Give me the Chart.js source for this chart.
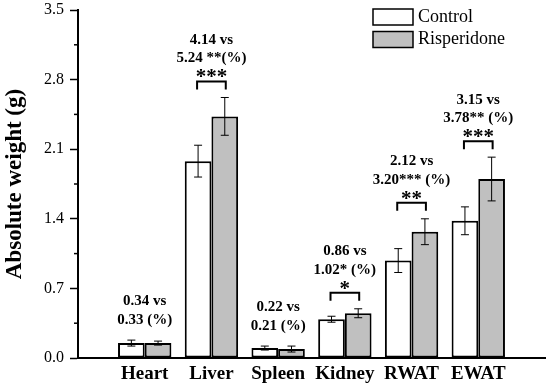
<!DOCTYPE html>
<html>
<head>
<meta charset="utf-8">
<script src="https://cdn.jsdelivr.net/npm/chart.js@4.4.0/dist/chart.umd.min.js"></script>
<style>
  html, body { margin: 0; padding: 0; background: #fff; }
  #wrap { width: 550px; height: 387px; }
</style>
</head>
<body>
<div id="wrap"><canvas id="chart"></canvas></div>
<script>
const organs = ["Heart", "Liver", "Spleen", "Kidney", "RWAT", "EWAT"];
const controlWeight = [0.15, 1.98, 0.10, 0.39, 0.98, 1.38];
const controlErr = [0.03, 0.16, 0.02, 0.03, 0.12, 0.14];
const risperWeight = [0.15, 2.43, 0.09, 0.45, 1.27, 1.80];
const risperErr = [0.02, 0.19, 0.03, 0.045, 0.13, 0.22];
const ratioTop = ["0.34 vs", "4.14 vs", "0.22 vs", "0.86 vs", "2.12 vs", "3.15 vs"];
const ratioBottom = ["0.33 (%)", "5.24 **(%)", "0.21 (%)", "1.02* (%)", "3.20*** (%)", "3.78** (%)"];
const stars = ["", "***", "", "*", "**", "***"];
const legendNames = ["Control", "Risperidone"];

const serif = "'Liberation Serif', 'Times New Roman', serif";
const fills = ["#ffffff", "#c0c0c0"];

// empty slot either side so Heart sits one step in from the axis
const labels = ["", ...organs, ""];
const pad = arr => [null, ...arr, null];

// error bars, brackets, text, minor ticks, legend
const extras = {
  id: "extras",
  afterDatasetsDraw(chart) {
    const ctx = chart.ctx;
    const x = chart.scales.x, y = chart.scales.y;
    const area = chart.chartArea;
    const sets = [[controlWeight, controlErr], [risperWeight, risperErr]];

    ctx.save();
    ctx.strokeStyle = "#000";
    ctx.fillStyle = "#000";

    // error bars
    ctx.lineWidth = 1;
    sets.forEach((s, d) => {
      const meta = chart.getDatasetMeta(d);
      s[0].forEach((v, i) => {
        const bx = meta.data[i + 1].x;
        const t = y.getPixelForValue(v + s[1][i]);
        const b = y.getPixelForValue(v - s[1][i]);
        ctx.beginPath();
        ctx.moveTo(bx, t); ctx.lineTo(bx, b);
        ctx.moveTo(bx - 4, t); ctx.lineTo(bx + 4, t);
        ctx.moveTo(bx - 4, b); ctx.lineTo(bx + 4, b);
        ctx.stroke();
      });
    });

    // brackets + labels
    ctx.textAlign = "center";
    organs.forEach((o, i) => {
      const cx = x.getPixelForValue(i + 1);
      const top = Math.min(
        y.getPixelForValue(controlWeight[i] + controlErr[i]),
        y.getPixelForValue(risperWeight[i] + risperErr[i])
      );
      let line2;
      if (stars[i]) {
        const x1 = chart.getDatasetMeta(0).data[i + 1].x - 1;
        const x2 = chart.getDatasetMeta(1).data[i + 1].x + 1;
        const by = top - 16;
        ctx.lineWidth = 2;
        ctx.beginPath();
        ctx.moveTo(x1, by + 8); ctx.lineTo(x1, by);
        ctx.lineTo(x2, by); ctx.lineTo(x2, by + 8);
        ctx.stroke();
        ctx.font = "bold 21px " + serif;
        ctx.textBaseline = "alphabetic";
        ctx.fillText(stars[i], cx, by + 2);
        line2 = by - 23;
      } else {
        line2 = top - 20;
      }
      ctx.font = "bold 15px " + serif;
      ctx.textBaseline = "middle";
      ctx.fillText(ratioBottom[i], cx, line2);
      ctx.fillText(ratioTop[i], cx, line2 - 18.5);
    });

    // minor ticks
    ctx.lineWidth = 1.5;
    for (let v = 0.35; v < 3.5; v += 0.7) {
      const py = y.getPixelForValue(v);
      ctx.beginPath();
      ctx.moveTo(area.left - 4, py); ctx.lineTo(area.left, py);
      ctx.stroke();
    }

    // legend
    const lx = area.right - 172, ly = 9;
    ctx.font = "18px " + serif;
    ctx.textAlign = "left";
    ctx.textBaseline = "middle";
    legendNames.forEach((name, k) => {
      const top = ly + k * 22.5;
      ctx.fillStyle = fills[k];
      ctx.fillRect(lx, top, 40, 16);
      ctx.lineWidth = 1.5;
      ctx.strokeRect(lx, top, 40, 16);
      ctx.fillStyle = "#000";
      ctx.fillText(name, lx + 45, top + 8);
    });
    ctx.restore();
  }
};

new Chart(document.getElementById("chart"), {
  type: "bar",
  data: {
    labels: labels,
    datasets: [
      { label: legendNames[0], data: pad(controlWeight), backgroundColor: fills[0] },
      { label: legendNames[1], data: pad(risperWeight), backgroundColor: fills[1] }
    ]
  },
  options: {
    responsive: true,
    maintainAspectRatio: false,
    animation: false,
    layout: { padding: { top: 0, right: 4, left: 0, bottom: 0 } },
    datasets: {
      bar: {
        borderColor: "#000",
        borderWidth: 2,
        borderSkipped: false,
        categoryPercentage: 0.8,
        barPercentage: 1.0
      }
    },
    plugins: {
      legend: { display: false },
      tooltip: { enabled: false }
    },
    scales: {
      x: {
        offset: false,
        grid: { display: false, drawTicks: false, tickLength: 0 },
        border: { display: true, color: "#000", width: 2 },
        ticks: {
          color: "#000",
          font: { family: serif, size: 19, weight: "bold" },
          padding: 5,
          autoSkip: false,
          maxRotation: 0
        },
        afterFit(scale) { scale.height = 29; }
      },
      y: {
        min: 0,
        max: 3.5,
        grid: {
          display: true,
          drawOnChartArea: false,
          drawTicks: true,
          tickLength: 8,
          tickColor: "#000",
          tickWidth: 1.5
        },
        border: { display: true, color: "#000", width: 2 },
        ticks: {
          stepSize: 0.7,
          color: "#000",
          font: { family: serif, size: 16 },
          padding: 6,
          callback: v => v.toFixed(1)
        },
        title: {
          display: true,
          text: "Absolute weight (g)",
          color: "#000",
          font: { family: serif, size: 23, weight: "bold" },
          padding: { top: 1, bottom: 0 }
        },
        afterFit(scale) {
          scale.width = 78;
          scale.paddingTop = 10;
          scale.paddingBottom = 0;
        }
      }
    }
  },
  plugins: [extras]
});
</script>
</body>
</html>
